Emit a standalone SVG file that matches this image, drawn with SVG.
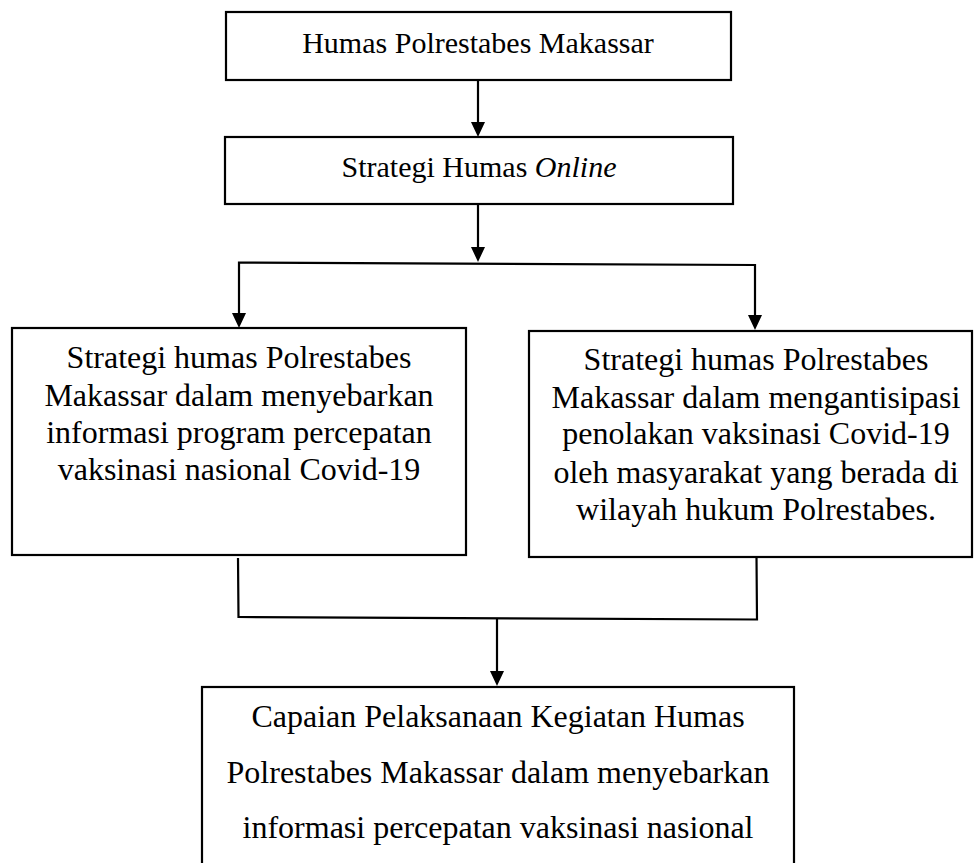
<svg xmlns="http://www.w3.org/2000/svg" width="976" height="863" viewBox="0 0 976 863">
<style>
.box{fill:#fff;stroke:#000;stroke-width:2.2}
.t{font-family:"Liberation Serif","Times New Roman",serif;fill:#000;text-anchor:middle}
.s30{font-size:30px}
.s32{font-size:32px}
.ln{fill:none;stroke:#000;stroke-width:2.2}
</style>
<defs>
<marker id="ah" viewBox="0 0 14 15" refX="7" refY="15" markerWidth="14" markerHeight="15" markerUnits="userSpaceOnUse" orient="auto-start-reverse">
<path d="M0,0 L14,0 L7,15 Z" fill="#000"/>
</marker>
</defs>
<rect width="976" height="863" fill="#fff"/>
<g id="connectors">
<line class="ln" x1="478" y1="80" x2="478" y2="123"/>
<path d="M471,122 L485,122 L478,137 Z"/>
<line class="ln" x1="478" y1="204" x2="478" y2="248"/>
<path d="M471,247 L485,247 L478,262 Z"/>
<polyline class="ln" points="239,314 239,262.5 755,265 755,316"/>
<path d="M232,313 L246,313 L239,328 Z"/>
<path d="M748,315 L762,315 L755,330 Z"/>
<polyline class="ln" points="238,558 238.5,617 757,619.5 756.5,557"/>
<line class="ln" x1="497" y1="619" x2="497" y2="672"/>
<path d="M490,671 L504,671 L497,686 Z"/>
</g>
<g id="n1">
<rect class="box" x="226" y="12" width="505" height="68"/>
<text class="t s30" x="478" y="53">Humas Polrestabes Makassar</text>
</g>
<g id="n2">
<rect class="box" x="225" y="137" width="508" height="67"/>
<text class="t s30" x="479" y="177">Strategi Humas <tspan font-style="italic">Online</tspan></text>
</g>
<g id="n3">
<rect class="box" x="12" y="328" width="454" height="227"/>
<text class="t s32" x="239" y="368">Strategi humas Polrestabes</text>
<text class="t s32" x="239" y="406">Makassar dalam menyebarkan</text>
<text class="t s32" x="239" y="443">informasi program percepatan</text>
<text class="t s32" x="239" y="480">vaksinasi nasional Covid-19</text>
</g>
<g id="n4">
<rect class="box" x="529" y="331" width="443" height="226"/>
<text class="t s32" x="756" y="370">Strategi humas Polrestabes</text>
<text class="t s32" x="756" y="408">Makassar dalam mengantisipasi</text>
<text class="t s32" x="756" y="444">penolakan vaksinasi Covid-19</text>
<text class="t s32" x="756" y="483">oleh masyarakat yang berada di</text>
<text class="t s32" x="756" y="520">wilayah hukum Polrestabes.</text>
</g>
<g id="n5">
<rect class="box" x="202" y="687" width="592" height="190"/>
<text class="t s32" x="498" y="727">Capaian Pelaksanaan Kegiatan Humas</text>
<text class="t s32" x="498" y="783">Polrestabes Makassar dalam menyebarkan</text>
<text class="t s32" x="498" y="838">informasi percepatan vaksinasi nasional</text>
</g>
</svg>
